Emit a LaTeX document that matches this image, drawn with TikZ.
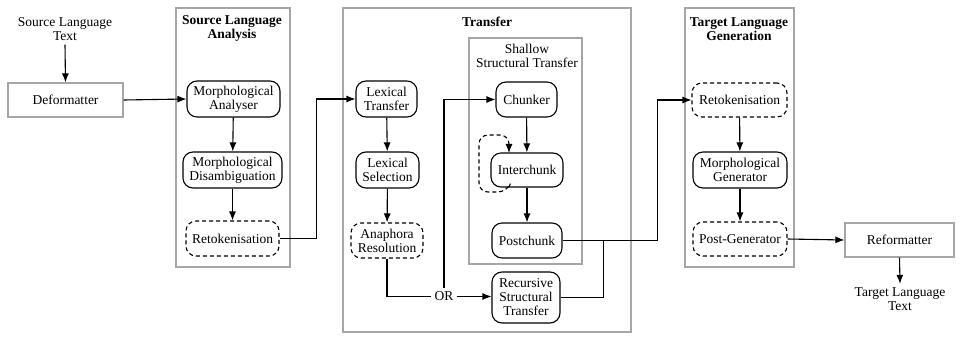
\documentclass[tikz,border=0pt]{standalone}
\usepackage{fontspec}
\setmainfont{Liberation Serif}
\usetikzlibrary{arrows.meta,positioning,calc}
\begin{document}
\begin{tikzpicture}[x=1pt,y=-1pt,
  font=\fontsize{13.5}{14}\selectfont,
  every node/.style={align=center,inner sep=0pt},
  proc/.style={draw,line width=1.1pt,rounded corners=10pt},
  optproc/.style={proc,dash pattern=on 4pt off 3pt},
  plainbox/.style={draw=black!35,line width=1.2pt},
  group/.style={draw=black!35,line width=1.2pt},
  conn/.style={line width=1.1pt},
  arr/.style={conn,-{Latex[length=9pt,width=7pt]}},
  gtitle/.style={font=\fontsize{13.5}{14}\selectfont\bfseries}
]
\useasboundingbox (0,0) rectangle (960,339);
% groups
\draw[group] (176,8) rectangle (290,267);
\node[gtitle] (slat) at (232,28) {Source Language\\Analysis};
\draw[group] (343,8) rectangle (631,332);
\node[gtitle] (trt) at (487,22) {Transfer};
\draw[group] (469,38) rectangle (582,264);
\node (sst) at (527,56) {Shallow\\Structural Transfer};
\draw[group] (685,8) rectangle (794,267);
\node[gtitle] (tlgt) at (739,29) {Target Language\\Generation};
% nodes
\node[inner ysep=4pt] (slt) at (65,29) {Source Language\\Text};
\node[plainbox,minimum width=115pt,minimum height=34pt] (def) at (65.5,100) {Deformatter};
\node[proc,minimum width=93pt,minimum height=36pt] (ma) at (233.5,99) {Morphological\\Analyser};
\node[proc,minimum width=99pt,minimum height=36pt] (md) at (232.5,170) {Morphological\\Disambiguation};
\node[optproc,minimum width=93pt,minimum height=35pt] (rt1) at (232.5,238.5) {Retokenisation};
\node[proc,minimum width=61pt,minimum height=36pt] (lt) at (386.5,99) {Lexical\\Transfer};
\node[proc,minimum width=63pt,minimum height=36pt] (ls) at (387.5,170) {Lexical\\Selection};
\node[optproc,minimum width=72pt,minimum height=35pt] (ar) at (387,240.5) {Anaphora\\Resolution};
\node[proc,minimum width=61pt,minimum height=35pt] (ch) at (526.5,99.5) {Chunker};
\node[proc,minimum width=72pt,minimum height=34pt] (ic) at (527,170) {Interchunk};
\node[proc,minimum width=70pt,minimum height=35pt] (pc) at (527,240.5) {Postchunk};
\node[proc,minimum width=68pt,minimum height=51pt] (rst) at (526,297.5) {Recursive\\Structural\\Transfer};
\node[inner xsep=3pt,inner ysep=4pt] (or) at (444,296.5) {OR};
\node[optproc,minimum width=95pt,minimum height=34pt] (rt2) at (739.5,100) {Retokenisation};
\node[proc,minimum width=94pt,minimum height=36pt] (mg) at (740,170) {Morphological\\Generator};
\node[optproc,minimum width=94pt,minimum height=34pt] (pg) at (740,239) {Post-Generator};
\node[plainbox,minimum width=109pt,minimum height=34pt] (ref) at (899.5,240) {Reformatter};
\node[inner ysep=4pt] (tlt) at (900,299.5) {Target Language\\Text};
% connectors
\draw[arr] (slt.south) -- (def.north);
\draw[arr] (def.east) -- (ma.west);
\draw[arr] (ma) -- (md);
\draw[arr] (md) -- (rt1);
\draw[arr] (rt1.east) -- ++(37,0) |- (lt.west);
\draw[arr] (lt) -- (ls);
\draw[arr] (ls) -- (ar);
\draw[conn] (ar.south) |- (or.west);
\draw[arr] (or.east) -- (or.east -| rst.west);
\draw[arr] (or.north) |- (ch.west);
\draw[arr] (ch) -- (ic);
\draw[arr] (ic) -- (pc);
\coordinate (ls1) at (509,187);
\coordinate (le1) at (509,153);
\draw[conn,dash pattern=on 4pt off 3pt,rounded corners=9pt,-{Latex[length=9pt,width=7pt]}] (ls1) -- (507,192) -- (479,192) -- (479,135) -- (509,135) -- (le1);
\draw[arr] (pc.east) -- ++(95,0) |- (rt2.west);
\draw[conn] (rst.east) -- ++(43,0) |- (pc.east);
\draw[arr] (rt2) -- (mg);
\draw[arr] (mg) -- (pg);
\draw[arr] (pg.east) -- (ref.west);
\draw[arr] (ref.south) -- (tlt.north);
\end{tikzpicture}
\end{document}
